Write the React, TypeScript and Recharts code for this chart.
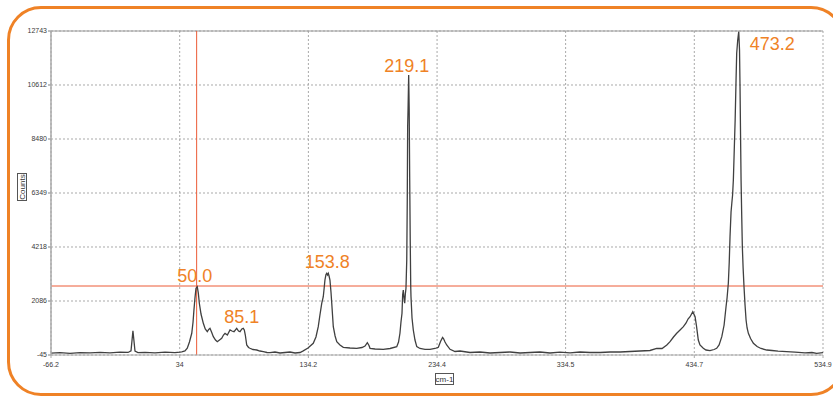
import React from 'react';
import {
  LineChart,
  Line,
  XAxis,
  YAxis,
  CartesianGrid,
  ReferenceLine,
  ReferenceDot,
} from 'recharts';

// Raman shift (cm-1)
const ramanShift = [
  -66.2, -59.2, -51.4, -43.6, -35.8, -28.0, -20.3, -12.5, -6.2, -3.9, -2.4, -0.8, 1.5, 7.0, 14.8, 22.6, 30.3, 34.2,
  35.6, 38.1, 39.9, 41.6, 43.4, 44.4, 45.1, 45.9, 46.7, 47.7, 48.5, 49.3, 50.6, 52.4, 53.9, 55.5, 56.6, 57.6, 58.8,
  60.2, 61.9, 63.3, 65.0, 66.7, 68.1, 69.3, 71.1, 73.2, 74.7, 76.3, 78.4, 79.8, 81.0, 82.4, 83.5, 84.3, 85.1, 86.2,
  87.6, 88.7, 91.1, 94.0, 96.5, 99.1, 102.0, 104.3, 108.2, 112.1, 116.0, 119.9, 123.8, 127.7, 130.2,
  133.9, 138.0, 140.1, 141.9, 143.2, 144.6, 145.8, 146.5, 147.1, 147.9, 148.5, 149.1, 149.7, 150.3, 151.0, 151.8,
  152.4, 153.0, 153.6, 155.0, 156.3, 158.8, 161.4, 166.6, 171.8, 175.9, 178.3, 180.1, 181.4, 182.2, 186.1, 192.5,
  197.8, 203.0, 204.4, 205.5, 206.3, 207.1, 207.6, 208.1, 208.6, 209.2, 209.7, 210.2, 210.8, 211.2, 211.5, 211.8,
  212.3, 212.7, 213.1, 213.5, 213.9, 214.1, 214.9, 215.9, 217.2, 218.6, 221.1, 225.0, 228.9, 232.8, 235.4, 237.1,
  238.7, 239.4, 240.6, 241.9, 244.5, 248.4, 252.3, 260.0, 267.8, 275.6, 283.4, 291.2, 299.0, 306.8, 314.5, 322.3,
  330.1, 337.9, 345.7, 353.5, 361.3, 369.1, 376.9, 384.6, 392.4, 400.2, 405.4, 409.6, 413.3, 415.8, 418.5, 421.0,
  423.6, 426.2, 428.3, 429.8, 431.4, 433.5, 435.3, 436.4, 437.8, 439.1, 441.7, 443.8, 446.9, 450.1, 452.1, 454.0,
  456.1, 457.9, 459.4, 460.2, 461.2, 461.9, 462.5, 463.3, 463.9, 464.5, 465.1, 465.8, 466.5, 467.2, 467.7, 468.5,
  469.3, 469.9, 470.3, 470.7, 471.1, 471.6, 472.1, 472.7, 473.4, 474.2, 475.0, 475.8, 476.8, 478.5, 480.7, 483.6,
  486.6, 491.1, 495.2, 499.9, 506.6, 513.1, 520.9, 526.3, 530.0, 534.9,
];

// Counts
const counts = [
  30, 45, 20, 50, 35, 60, 40, 70, 55, 120, 910, 110, 50, 60, 40, 65, 50, 70,
  80, 113, 220, 468, 812, 1257, 1731, 2205, 2588, 2651, 2402, 1996, 1573, 1206, 981, 875, 961, 1009, 863,
  677, 547, 480, 547, 614, 744, 812, 744, 942, 902, 875, 1009, 902, 875, 981, 1009, 942, 744, 350,
  251, 220, 172, 152, 113, 85, 54, 46, 73, 34, 54, 73, 34, 54, 120,
  231, 417, 665, 1072, 1534, 1996, 2256, 2600, 2915, 3132, 3180, 3113, 3180, 3073, 2915, 2442,
  1996, 1534, 1072, 705, 480, 350, 259, 231, 220, 251, 310, 441, 330, 220, 192, 180,
  212, 283, 468, 812, 1257, 1601, 2323, 2521, 2244, 1996, 2363, 2588, 3705, 6073, 8966, 9625,
  11007, 9625, 6862, 4494, 2651, 2256, 1415, 942, 547, 283, 212, 180, 180, 212, 259, 488,
  646, 606, 468, 350, 180, 93, 113, 54, 73, 34, 54, 73, 34, 54, 73, 34,
  66, 42, 73, 54, 54, 73, 73, 93, 113, 133, 220, 212, 350, 480, 665, 812,
  942, 1072, 1218, 1376, 1467, 1664, 1467, 1100, 547, 350, 220, 152, 125, 172, 220, 350,
  677, 1139, 1861, 2205, 2797, 3626, 4624, 5599, 5943, 6270, 6862, 8046, 9230, 10809, 11863, 12388,
  12716, 11993, 10545, 8638, 6862, 5481, 4230, 3389, 2651, 1929, 1336, 1021, 812, 606, 417, 290,
  212, 152, 133, 105, 85, 66, 42, 54, 22, 46,
];

const xTicks = [-66.2, 34, 134.2, 234.4, 334.5, 434.7, 534.9];
const yTicks = [-45, 2086, 4218, 6349, 8480, 10612, 12743];

// Peak annotations
const peakLabels = ['50.0', '85.1', '153.8', '219.1', '473.2'];
const peakShifts = [47.7, 83.5, 148.5, 212.3, 469.3];
const peakCounts = [2651, 1009, 3180, 11007, 12716];

// Cursor lines
const cursorShift = 47.2;
const cursorCounts = 2678;

const labelPlacement = [
  { dx: -2.6, dy: -5, anchor: 'middle' },
  { dx: -1.6, dy: -5, anchor: 'middle' },
  { dx: 0.5, dy: -5, anchor: 'middle' },
  { dx: -2, dy: -3, anchor: 'middle' },
  { dx: 11, dy: 18, anchor: 'start' },
];

const data = ramanShift.map((x, i) => ({ x, y: counts[i] }));

const ORANGE = '#ef8226';
const RED = '#ec5a36';
const GRID = '#a9a9a9';

export default function App() {
  return (
    <div
      style={{
        position: 'absolute',
        left: 0,
        top: 0,
        width: 833,
        height: 396,
        overflow: 'hidden',
        background: '#fff',
        fontFamily: '"Liberation Sans", Arial, sans-serif',
      }}
    >
      <div
        style={{
          position: 'absolute',
          left: 7,
          top: 6,
          width: 838,
          height: 390,
          boxSizing: 'border-box',
          border: `3px solid ${ORANGE}`,
          borderRadius: 34,
        }}
      />
      <div style={{ position: 'absolute', left: 0, top: 0 }}>
        <LineChart
          width={833}
          height={396}
          data={data}
          margin={{ top: 31, right: 10, bottom: 11, left: 0 }}
        >
          <CartesianGrid stroke={GRID} strokeDasharray="2 2" />
          <XAxis
            dataKey="x"
            type="number"
            domain={[-66.2, 534.9]}
            ticks={xTicks}
            interval={0}
            allowDataOverflow
            height={30}
            tickSize={3}
            tickMargin={4}
            stroke="#aaaaaa"
            tick={{ fontSize: 7, fill: '#3a3a3a', fontFamily: '"Liberation Sans", Arial, sans-serif' }}
          />
          <YAxis
            type="number"
            domain={[-45, 12743]}
            ticks={yTicks}
            interval={0}
            allowDataOverflow
            width={51}
            tickSize={3}
            tickMargin={1}
            stroke="#aaaaaa"
            strokeWidth={1.5}
            tick={{ fontSize: 7, fill: '#3a3a3a', fontFamily: '"Liberation Sans", Arial, sans-serif' }}
          />
          <ReferenceLine y={12743} stroke="#999" strokeWidth={1.2} />
          <ReferenceLine x={cursorShift} stroke={RED} strokeWidth={1} />
          <ReferenceLine y={cursorCounts} stroke={RED} strokeWidth={1} />
          <Line
            type="linear"
            dataKey="y"
            stroke="#404040"
            strokeWidth={1.3}
            dot={false}
            isAnimationActive={false}
          />
          {peakLabels.map((lab, i) => (
            <ReferenceDot
              key={lab}
              x={peakShifts[i]}
              y={peakCounts[i]}
              r={0}
              fill="none"
              stroke="none"
              ifOverflow="visible"
              label={{
                content: (props: any) => {
                  const vb = props.viewBox || {};
                  const cx = (vb.x ?? 0) + (vb.width ?? 0) / 2;
                  const cy = (vb.y ?? 0) + (vb.height ?? 0) / 2;
                  const p = labelPlacement[i];
                  return (
                    <text
                      x={cx + p.dx}
                      y={cy + p.dy}
                      textAnchor={p.anchor as any}
                      fill={ORANGE}
                      fontSize={18}
                      fontFamily='"Liberation Sans", Arial, sans-serif'
                    >
                      {lab}
                    </text>
                  );
                },
              }}
            />
          ))}
        </LineChart>
      </div>
      <svg
        width={833}
        height={396}
        style={{ position: 'absolute', left: 0, top: 0, pointerEvents: 'none' }}
      >
        <rect x={17.5} y={173.5} width={9} height={27} fill="#fff" stroke="#555" strokeWidth={1} />
        <text
          x={22}
          y={187}
          transform="rotate(-90 22 187)"
          textAnchor="middle"
          dominantBaseline="central"
          fontSize={8}
          fill="#333"
          fontFamily='"Liberation Sans", Arial, sans-serif'
        >
          Counts
        </text>
        <rect x={435.5} y={373.5} width={18} height={11} fill="#fff" stroke="#555" strokeWidth={1} />
        <text
          x={444.5}
          y={379.5}
          textAnchor="middle"
          dominantBaseline="central"
          fontSize={8}
          fill="#333"
          fontFamily='"Liberation Sans", Arial, sans-serif'
        >
          cm-1
        </text>
      </svg>
    </div>
  );
}
